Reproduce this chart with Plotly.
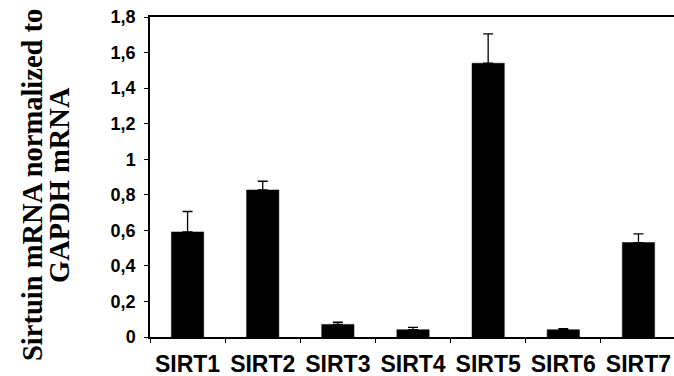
import plotly.graph_objects as go

categories = ["SIRT1", "SIRT2", "SIRT3", "SIRT4", "SIRT5", "SIRT6", "SIRT7"]
values = [0.591, 0.827, 0.071, 0.041, 1.540, 0.041, 0.531]
errors_up = [0.115, 0.049, 0.012, 0.013, 0.165, 0.006, 0.049]
y_tick_vals = [0, 0.2, 0.4, 0.6, 0.8, 1.0, 1.2, 1.4, 1.6, 1.8]
y_tick_text = ["0", "0,2", "0,4", "0,6", "0,8", "1", "1,2", "1,4", "1,6", "1,8"]
title_line1 = "Sirtuin mRNA normalized to"
title_line2 = "GAPDH mRNA"

fig = go.Figure()
fig.add_trace(go.Bar(
    x=categories,
    y=values,
    width=0.43,
    marker=dict(color="black", line=dict(color="black", width=0.5)),
    error_y=dict(
        type="data",
        symmetric=False,
        array=errors_up,
        arrayminus=[0] * len(errors_up),
        color="black",
        thickness=1.3,
        width=5,
    ),
))

sans = "Liberation Sans"
serif = "Liberation Serif"

fig.update_layout(
    width=674,
    height=376,
    margin=dict(l=150, r=0, t=17, b=39),
    plot_bgcolor="white",
    paper_bgcolor="white",
    showlegend=False,
    xaxis=dict(
        type="category",
        range=[-0.5, 6.473],
        showline=True,
        linecolor="black",
        linewidth=2,
        mirror=True,
        ticks="outside",
        tickson="boundaries",
        ticklen=4,
        tickcolor="black",
        tickwidth=1,
        showgrid=False,
        ticklabelstandoff=5,
        tickfont=dict(family=sans, size=23, color="black", weight="bold"),
    ),
    yaxis=dict(
        range=[0, 1.8],
        tickvals=y_tick_vals,
        ticktext=y_tick_text,
        showline=True,
        linecolor="black",
        linewidth=1.5,
        ticks="outside",
        ticklen=4,
        tickcolor="black",
        tickwidth=1,
        showgrid=False,
        zeroline=False,
        ticklabelstandoff=5,
        tickfont=dict(family=sans, size=18, color="black", weight="bold"),
    ),
    annotations=[
        dict(text=title_line1, xref="paper", yref="paper", x=0, y=0.5,
             xanchor="center", yanchor="middle", xshift=-118, yshift=-8,
             textangle=-90, showarrow=False,
             font=dict(family=serif, size=28.5, color="black", weight="bold")),
        dict(text=title_line2, xref="paper", yref="paper", x=0, y=0.5,
             xanchor="center", yanchor="middle", xshift=-91, yshift=-8,
             textangle=-90, showarrow=False,
             font=dict(family=serif, size=28.5, color="black", weight="bold")),
    ],
)

fig.write_html("out.html")
